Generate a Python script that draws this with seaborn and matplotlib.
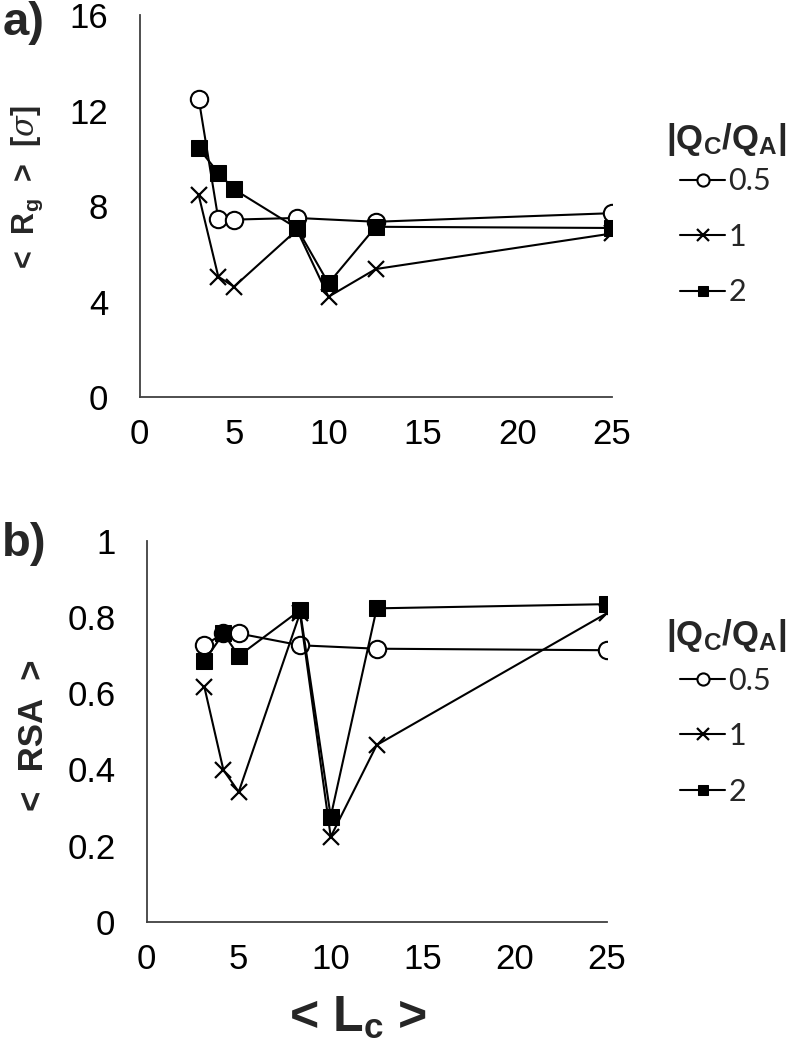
import matplotlib
matplotlib.use('Agg')
import matplotlib.pyplot as plt
import seaborn as sns

# chain length <Lc>
lc_half = [3.13, 4.17, 5.0, 8.33, 12.5, 25.0]
lc_all = [3.13, 4.17, 5.0, 8.33, 10.0, 12.5, 25.0]

# <Rg> [sigma]
rg_half = [12.5, 7.45, 7.43, 7.5, 7.34, 7.7]
rg_one = [8.46, 5.04, 4.62, 7.0, 4.2, 5.36, 6.85]
rg_two = [10.42, 9.39, 8.7, 7.07, 4.76, 7.13, 7.08]

# <RSA>
rsa_half = [0.726, 0.757, 0.757, 0.726, 0.717, 0.713]
rsa_one = [0.617, 0.398, 0.341, 0.81, 0.223, 0.464, 0.81]
rsa_two = [0.685, 0.757, 0.698, 0.818, 0.276, 0.823, 0.834]

series_labels = ['0.5', '1', '2']
x_ticks = [0, 5, 10, 15, 20, 25]
rg_ticks = [0, 4, 8, 12, 16]
rsa_ticks = [0, 0.2, 0.4, 0.6, 0.8, 1]

sns.set_style('white')
plt.rcParams['font.family'] = ['Liberation Sans', 'DejaVu Sans']
plt.rcParams['mathtext.fontset'] = 'custom'
plt.rcParams['mathtext.rm'] = 'Liberation Sans'
plt.rcParams['mathtext.bf'] = 'Liberation Sans:bold'
plt.rcParams['mathtext.it'] = 'DejaVu Serif:italic'

axis_col = '#404040'


def draw_panel(ax, half, one, two):
    sns.lineplot(x=lc_half, y=half, ax=ax, color='black', linewidth=1.5,
                 marker='o', markersize=12.5, markerfacecolor='white',
                 markeredgecolor='black', markeredgewidth=1.5, label=series_labels[0])
    sns.lineplot(x=lc_all, y=one, ax=ax, color='black', linewidth=1.5,
                 marker='x', markersize=12, markeredgecolor='black',
                 markeredgewidth=1.6, label=series_labels[1])
    sns.lineplot(x=lc_all, y=two, ax=ax, color='black', linewidth=1.5,
                 marker='s', markersize=11, markerfacecolor='black',
                 markeredgecolor='black', label=series_labels[2])
    for side in ['top', 'right']:
        ax.spines[side].set_visible(False)
    for side in ['left', 'bottom']:
        ax.spines[side].set_color(axis_col)
        ax.spines[side].set_linewidth(1.3)
    ax.set_xlim(0, 25)
    ax.set_xticks(x_ticks)
    ax.tick_params(axis='both', direction='out', colors=axis_col, width=1.2,
                   labelsize=25, labelcolor='black')
    ax.tick_params(axis='y', length=8.5, pad=14)
    ax.tick_params(axis='x', length=7, pad=8)
    ax.set_xlabel('')


fig = plt.figure(figsize=(7.94, 10.5), dpi=100)
ax1 = fig.add_axes([0.1757, 0.6219, 0.5951, 0.3638])
ax2 = fig.add_axes([0.1848, 0.1222, 0.5793, 0.3626])

draw_panel(ax1, rg_half, rg_one, rg_two)
ax1.set_ylim(0, 16)
ax1.set_yticks(rg_ticks)
ax1.set_ylabel(r'<  R$_\mathbf{g}$  >  [$\mathit{\sigma}$]', fontsize=22, fontweight='bold')
ax1.yaxis.set_label_coords(-0.2, 0.55)

draw_panel(ax2, rsa_half, rsa_one, rsa_two)
ax2.set_ylim(0, 1)
ax2.set_yticks(rsa_ticks)
ax2.set_yticklabels(['0', '0.2', '0.4', '0.6', '0.8', '1'])
ax2.set_ylabel('<  RSA  >', fontsize=25, fontweight='bold')
ax2.yaxis.set_label_coords(-0.21, 0.491)
ax2.set_xlabel(r'< L$_\mathbf{c}$ >', fontsize=36, fontweight='bold')
ax2.xaxis.set_label_coords(0.459, -0.19)

legend_title = r'$\mathbf{|Q_C/Q_A|}$'
# (title y, middle entry y) in figure fraction
for ax, title_y, mid_y in [(ax1, 0.8667, 0.7743), (ax2, 0.3943, 0.2990)]:
    ax.legend(loc='center left', bbox_to_anchor=(0.856, mid_y), bbox_transform=fig.transFigure,
              frameon=False, borderpad=0, borderaxespad=0,
              prop={'family': 'Lato', 'size': 22}, markerscale=0.7,
              handlelength=1.5, handletextpad=0.1, labelspacing=0.9)
    fig.text(0.914, title_y, legend_title, fontsize=25, ha='center', va='center')

fig.text(0.003, 0.978, 'a)', fontsize=34, fontweight='bold', va='center', ha='left')
fig.text(0.003, 0.482, 'b)', fontsize=34, fontweight='bold', va='center', ha='left')

fig.savefig('out.png', dpi=100)
